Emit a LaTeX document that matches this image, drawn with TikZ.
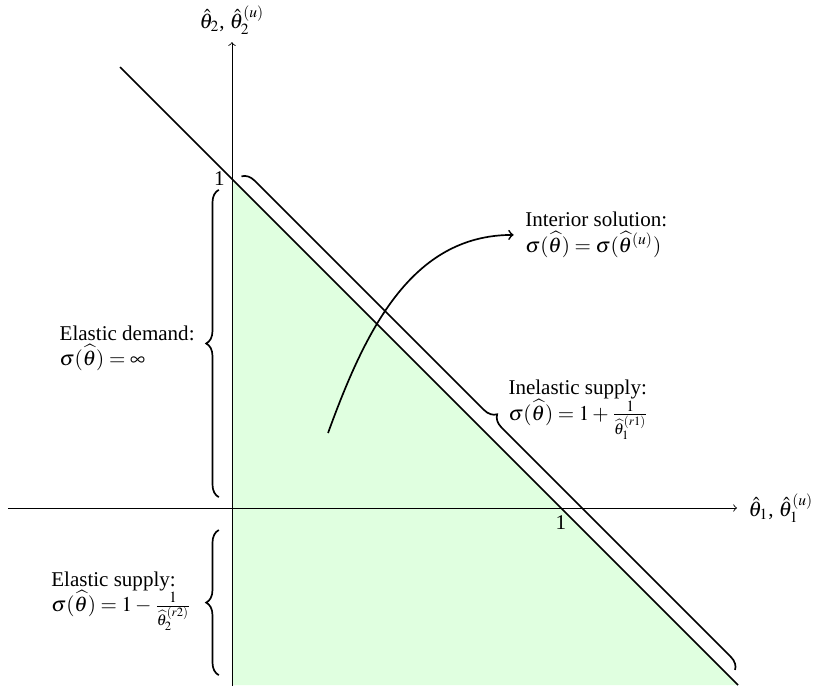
\documentclass[tikz,border=0pt]{standalone}
\usepackage{mathptmx}
\usepackage{fontspec}
\setmainfont{Liberation Serif}
\usetikzlibrary{decorations.pathreplacing}

\begin{document}
\begin{tikzpicture}[x=5.5cm, y=5.5cm,
	axis/.style={->},
	budget/.style={thick},
	region/.style={fill=green!12},
	brc/.style={thick, decorate, decoration={brace, amplitude=6pt}},
	lbl/.style={align=left}]

	\useasboundingbox (-0.705,-0.568) rectangle (1.769,1.544);

	% feasible region and budget line
	\fill[region] (0,1) -- (1.538,-0.538) -- (0,-0.538) -- cycle;
	\draw[budget] (-0.34,1.34) -- (1.538,-0.538);

	% axes
	\coordinate (xstart) at (-0.681,0);
	\coordinate (xend)   at (1.535,0);
	\coordinate (ystart) at (0,-0.541);
	\coordinate (yend)   at (0,1.416);
	\draw[axis] (xstart) -- (xend);
	\draw[axis] (ystart) -- (yend);
	\node[right, xshift=2pt] (xlab) at (xend) {$\hat{\theta}_1$, $\hat{\theta}_1^{(u)}$};
	\node[above] (ylab) at (yend) {$\hat{\theta}_2$, $\hat{\theta}_2^{(u)}$};
	\node[left]  (yone) at (0,1) {1};
	\node[below] (xone) at (1,0) {1};

	% braces
	\draw[brc] (-0.04,0.033) -- (-0.04,0.967);
	\draw[brc] (-0.04,-0.508) -- (-0.04,-0.067);
	\draw[brc, decoration={raise=4.4pt}] (0.009,0.988) -- (1.509,-0.512);

	\node[lbl, anchor=east] (demand) at (-0.091,0.486)
		{Elastic demand:\\ $\sigma(\widehat{\theta})=\infty$};
	\node[lbl, anchor=east] (esupply) at (-0.1,-0.283)
		{Elastic supply:\\ $\sigma(\widehat{\theta})=1-\frac{1}{\widehat{\theta}_2^{(r2)}}$};
	\node[lbl, anchor=west] (isupply) at (0.818,0.298)
		{Inelastic supply:\\ $\sigma(\widehat{\theta})=1+\frac{1}{\widehat{\theta}_1^{(r1)}}$};
	\node[lbl, anchor=west] (interior) at (0.869,0.830)
		{Interior solution:\\ $\sigma(\widehat{\theta})=\sigma(\widehat{\theta}^{(u)})$};

	% interior solution arrow
	\coordinate (pick) at (0.292,0.228);
	\draw[thick, ->, shorten >=2pt] (pick) to[out=70, in=180] (interior.west);
\end{tikzpicture}
\end{document}
